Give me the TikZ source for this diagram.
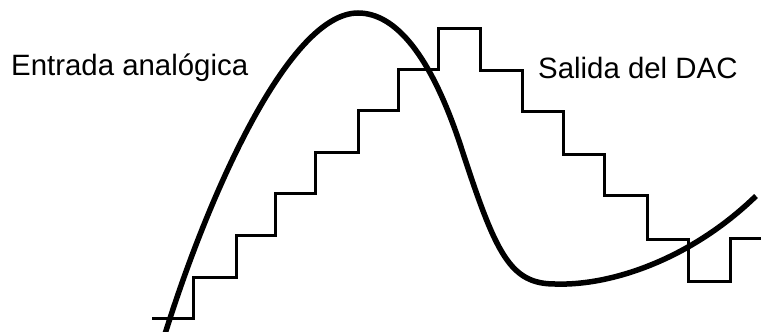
\documentclass[tikz,border=0pt]{standalone}
\usepackage{fontspec}
\setmainfont{Liberation Sans}
\begin{document}
\begin{tikzpicture}[x=1pt,y=-1pt,
  lbl/.style={inner sep=0pt,anchor=base west,font=\fontsize{29.4}{32}\selectfont},
  stairline/.style={line width=3pt,line join=miter,line cap=butt},
  analog/.style={line width=5.5pt,line cap=butt}]
\useasboundingbox[fill=white] (0,0) rectangle (761,332);
\node[lbl] (entrada) at (11,75) {Entrada analógica};
\node[lbl] (salida) at (538,78) {Salida del DAC};
\draw[stairline] (152,318) -- (193,318) -- (193,277) -- (236,277) -- (236,235) -- (275,235) -- (275,193) -- (315,193) -- (315,152) -- (358,152) -- (358,110) -- (398,110) -- (398,69) -- (438,69) -- (438,28) -- (480,28) -- (480,70) -- (522,70) -- (522,111) -- (563,111) -- (563,154) -- (604,154) -- (604,195) -- (647,195) -- (647,239) -- (688,239) -- (688,281) -- (730,281) -- (730,238) -- (761,238);
\coordinate (c0) at (165,334);
\coordinate (peak) at (358,13);
\coordinate (infl) at (462,150);
\coordinate (low) at (555,284);
\coordinate (cend) at (756,196);
\draw[analog] (c0) .. controls (210,190) and (290,13) .. (peak)
  .. controls (395,13) and (431,54) .. (infl)
  .. controls (496,254) and (510,284) .. (low)
  .. controls (610,286) and (690,260) .. (cend);
\end{tikzpicture}
\end{document}
